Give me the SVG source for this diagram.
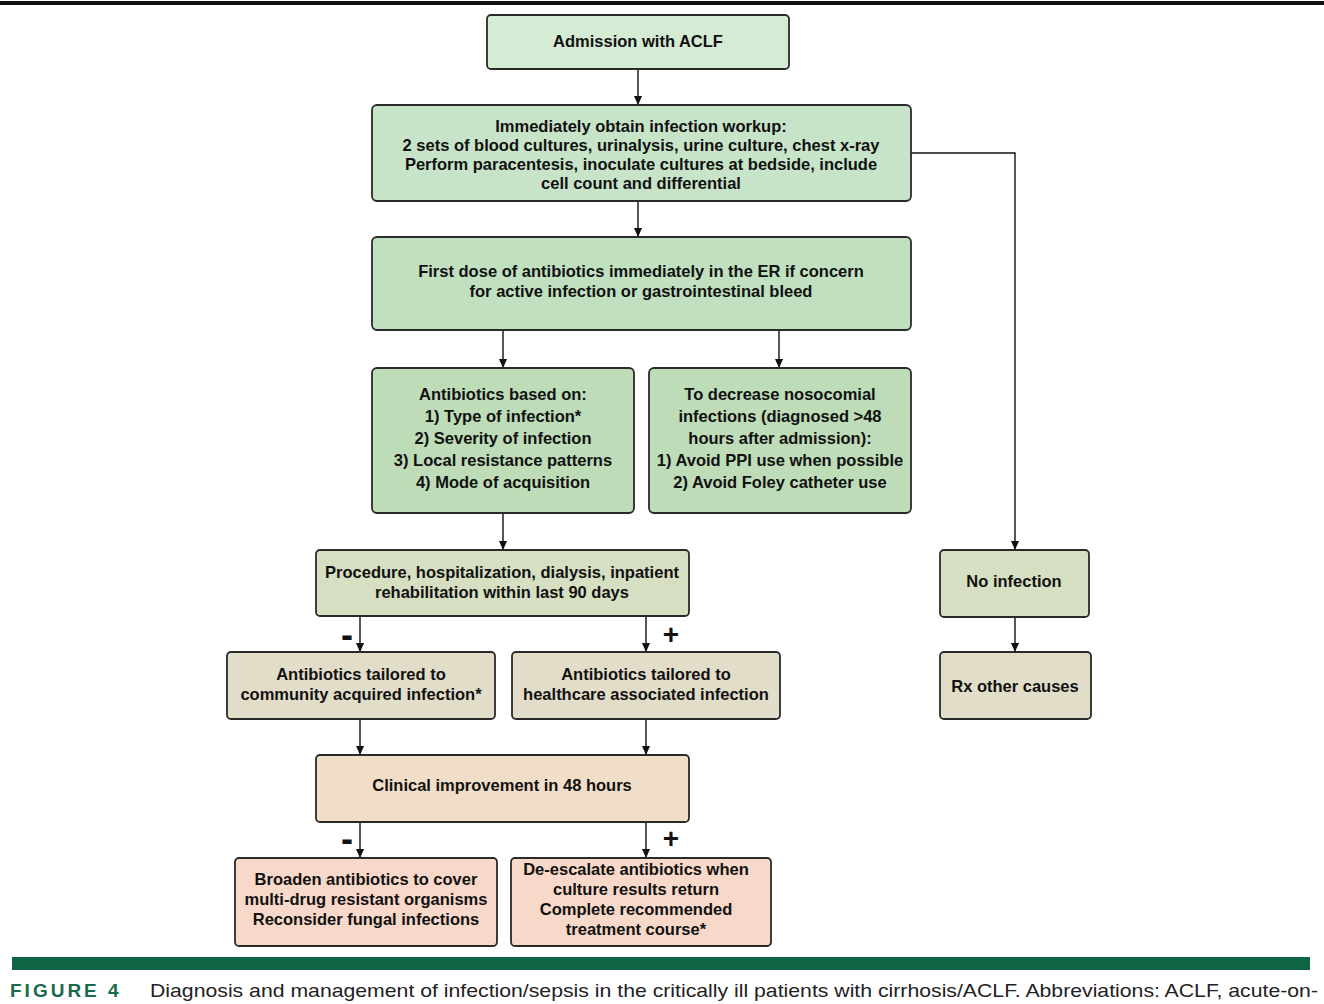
<svg xmlns="http://www.w3.org/2000/svg" width="1324" height="1004" viewBox="0 0 1324 1004">
<defs>
<marker id="ah" viewBox="0 0 10 10" refX="10" refY="5" markerWidth="9" markerHeight="9" markerUnits="userSpaceOnUse" orient="auto">
<path d="M0,0.5 L10,5 L0,9.5 z" fill="#111"/>
</marker>
<style>
.box{stroke:#2a2a2a;stroke-width:1.8}
.t{font-family:"Liberation Sans",Arial,sans-serif;font-weight:bold;font-size:16.5px;fill:#111;text-anchor:middle}
.g1{fill:#d5ebd4}
.g2{fill:#c8e4c8}
.g3{fill:#c0e0c0}
.g4{fill:#bedcb8}
.ol{fill:#d6dfc2}
.tan{fill:#e2ddc8}
.pe{fill:#f1dec8}
.pk{fill:#f8d8c8}
.c{stroke:#111;stroke-width:1.4;fill:none}
.sg{font-family:"Liberation Sans",Arial,sans-serif;font-weight:bold;font-size:28px;fill:#111;text-anchor:middle}
.mn{font-family:"Liberation Sans",Arial,sans-serif;font-weight:900;font-size:36px;fill:#111;text-anchor:middle}
</style>
</defs>
<rect width="1324" height="1004" fill="#fff"/>
<rect x="0" y="1" width="1324" height="4" fill="#111"/>

<g id="connectors">
<line class="c" x1="638" y1="69" x2="638" y2="105" marker-end="url(#ah)"/>
<line class="c" x1="638" y1="201" x2="638" y2="237" marker-end="url(#ah)"/>
<line class="c" x1="503" y1="330" x2="503" y2="368" marker-end="url(#ah)"/>
<line class="c" x1="779" y1="330" x2="779" y2="368" marker-end="url(#ah)"/>
<line class="c" x1="503" y1="513" x2="503" y2="550" marker-end="url(#ah)"/>
<line class="c" x1="360" y1="616" x2="360" y2="652" marker-end="url(#ah)"/>
<line class="c" x1="646" y1="616" x2="646" y2="652" marker-end="url(#ah)"/>
<line class="c" x1="360" y1="719" x2="360" y2="755" marker-end="url(#ah)"/>
<line class="c" x1="646" y1="719" x2="646" y2="755" marker-end="url(#ah)"/>
<line class="c" x1="360" y1="822" x2="360" y2="858" marker-end="url(#ah)"/>
<line class="c" x1="646" y1="822" x2="646" y2="858" marker-end="url(#ah)"/>
<polyline class="c" points="911,153 1015,153 1015,550" marker-end="url(#ah)"/>
<line class="c" x1="1015" y1="617" x2="1015" y2="652" marker-end="url(#ah)"/>
<text class="mn" x="347" y="647">-</text>
<text class="sg" x="671" y="644">+</text>
<text class="mn" x="347" y="851">-</text>
<text class="sg" x="671" y="848">+</text>
</g>

<g id="admission">
<rect class="box g1" x="487" y="15" width="302" height="54" rx="4"/>
<text class="t" x="638" y="47">Admission with ACLF</text>
</g>
<g id="workup">
<rect class="box g2" x="372" y="105" width="539" height="96" rx="5"/>
<text class="t" x="641" y="132">Immediately obtain infection workup:</text>
<text class="t" x="641" y="151">2 sets of blood cultures, urinalysis, urine culture, chest x-ray</text>
<text class="t" x="641" y="170">Perform paracentesis, inoculate cultures at bedside, include</text>
<text class="t" x="641" y="189">cell count and differential</text>
</g>
<g id="first-dose">
<rect class="box g3" x="372" y="237" width="539" height="93" rx="5"/>
<text class="t" x="641" y="277">First dose of antibiotics immediately in the ER if concern</text>
<text class="t" x="641" y="297">for active infection or gastrointestinal bleed</text>
</g>
<g id="antibiotics-based">
<rect class="box g4" x="372" y="368" width="262" height="145" rx="5"/>
<text class="t" x="503" y="400">Antibiotics based on:</text>
<text class="t" x="503" y="422">1) Type of infection*</text>
<text class="t" x="503" y="444">2) Severity of infection</text>
<text class="t" x="503" y="466">3) Local resistance patterns</text>
<text class="t" x="503" y="488">4) Mode of acquisition</text>
</g>
<g id="nosocomial">
<rect class="box g4" x="649" y="368" width="262" height="145" rx="5"/>
<text class="t" x="780" y="400">To decrease nosocomial</text>
<text class="t" x="780" y="422">infections (diagnosed &gt;48</text>
<text class="t" x="780" y="444">hours after admission):</text>
<text class="t" x="780" y="466">1) Avoid PPI use when possible</text>
<text class="t" x="780" y="488">2) Avoid Foley catheter use</text>
</g>
<g id="procedure">
<rect class="box ol" x="316" y="550" width="373" height="66" rx="4"/>
<text class="t" x="502" y="578">Procedure, hospitalization, dialysis, inpatient</text>
<text class="t" x="502" y="598">rehabilitation within last 90 days</text>
</g>
<g id="community">
<rect class="box tan" x="227" y="652" width="268" height="67" rx="4"/>
<text class="t" x="361" y="680">Antibiotics tailored to</text>
<text class="t" x="361" y="700">community acquired infection*</text>
</g>
<g id="healthcare">
<rect class="box tan" x="512" y="652" width="268" height="67" rx="4"/>
<text class="t" x="646" y="680">Antibiotics tailored to</text>
<text class="t" x="646" y="700">healthcare associated infection</text>
</g>
<g id="clinical">
<rect class="box pe" x="316" y="755" width="373" height="67" rx="4"/>
<text class="t" x="502" y="791">Clinical improvement in 48 hours</text>
</g>
<g id="broaden">
<rect class="box pk" x="235" y="858" width="262" height="88" rx="4"/>
<text class="t" x="366" y="885">Broaden antibiotics to cover</text>
<text class="t" x="366" y="905">multi-drug resistant organisms</text>
<text class="t" x="366" y="925">Reconsider fungal infections</text>
</g>
<g id="deescalate">
<rect class="box pk" x="511" y="858" width="260" height="88" rx="4"/>
<text class="t" x="636" y="875">De-escalate antibiotics when</text>
<text class="t" x="636" y="895">culture results return</text>
<text class="t" x="636" y="915">Complete recommended</text>
<text class="t" x="636" y="935">treatment course*</text>
</g>
<g id="no-infection">
<rect class="box ol" x="940" y="550" width="149" height="67" rx="4"/>
<text class="t" x="1014" y="587">No infection</text>
</g>
<g id="rx-other">
<rect class="box tan" x="940" y="652" width="151" height="67" rx="4"/>
<text class="t" x="1015" y="692">Rx other causes</text>
</g>

<rect x="12" y="957" width="1298" height="13" fill="#0f6443"/>
<text x="10" y="997" font-family="'Liberation Sans',Arial,sans-serif" font-weight="bold" font-size="19" fill="#1a6a4c" letter-spacing="3">FIGURE 4</text>
<text x="150" y="997" font-family="'Liberation Sans',Arial,sans-serif" font-size="19" fill="#222" textLength="1168" lengthAdjust="spacingAndGlyphs">Diagnosis and management of infection/sepsis in the critically ill patients with cirrhosis/ACLF. Abbreviations: ACLF, acute-on-</text>
</svg>
